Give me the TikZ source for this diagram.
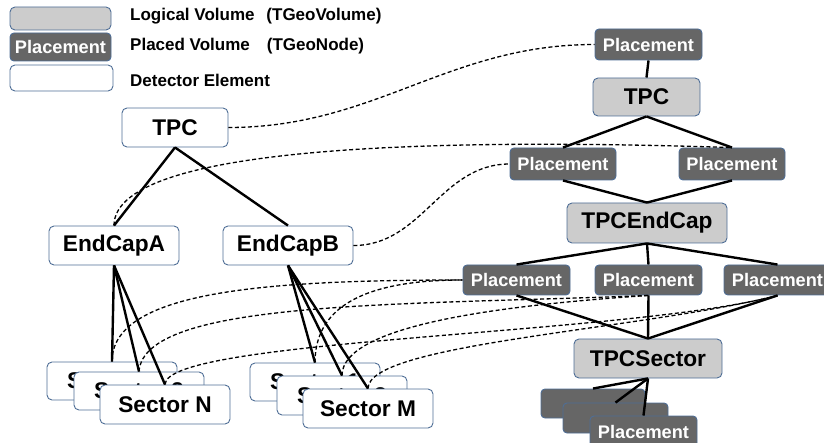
\documentclass[tikz,border=0pt]{standalone}
\usepackage{fontspec}
\setmainfont{Liberation Sans}
\definecolor{boxedge}{HTML}{4F6E96}
\definecolor{volgray}{HTML}{CCCCCC}
\definecolor{placegray}{HTML}{666666}

\begin{document}
\begin{tikzpicture}[x=1pt, y=-1pt,
volnode/.style={rectangle, rounded corners=5pt, draw=boxedge, line width=0.9pt, fill=volgray, inner sep=0pt, minimum width=107pt, minimum height=38pt, font=\fontsize{22.7}{26}\selectfont\bfseries},
placenode/.style={rectangle, rounded corners=4pt, draw=boxedge, line width=0.9pt, fill=placegray, text=white, inner sep=0pt, minimum width=107pt, minimum height=32pt, font=\fontsize{18.2}{21}\selectfont\bfseries},
detnode/.style={rectangle, rounded corners=5pt, draw=boxedge, line width=0.9pt, fill=white, inner sep=0pt, minimum width=130pt, minimum height=39pt, font=\fontsize{22.7}{26}\selectfont\bfseries},
legtext/.style={anchor=west, inner sep=0pt, font=\fontsize{17}{20}\selectfont\bfseries},
treeline/.style={line width=2.4pt},
linkline/.style={dashed, dash pattern=on 4pt off 2.5pt, line width=1.3pt},
]
\useasboundingbox (0,0) rectangle (824,443);

%Legend
\node[volnode, minimum width=101pt, minimum height=23pt]   (legvol)   at (60.5,18.5) {};
\node[placenode, minimum width=101pt, minimum height=28pt] (legplace) at (60.5,47)   {Placement};
\node[detnode, minimum width=103pt, minimum height=26pt]   (legdet)   at (61.5,78)   {};
\node[legtext] (legvoltext)   at (130,16) {Logical Volume\hspace{0.7em}(TGeoVolume)};
\node[legtext] (legplacetext) at (130,46) {Placed Volume\hspace{1em}(TGeoNode)};
\node[legtext] (legdettext)   at (130,80) {Detector Element};

%Detector elements
\node[detnode, minimum width=106pt] (tpcdet)  at (175,127.5) {TPC};
\node[detnode]                      (endcapA) at (114,245.5) {EndCapA};
\node[detnode]                      (endcapB) at (288,245.5) {EndCapB};
\node[detnode, minimum height=38pt] (sectorA1) at (112,381)   {Sector 1};
\node[detnode, minimum height=38pt] (sectorA2) at (139,391)   {Sector 2};
\node[detnode]                      (sectorAN) at (165,404.5) {Sector N};
\node[detnode, minimum height=38pt] (sectorB1) at (315,382)   {Sector 1};
\node[detnode]                      (sectorB2) at (342,395.5) {Sector 2};
\node[detnode]                      (sectorBM) at (368,408.5) {Sector M};

%Volumes and placements
\node[placenode, minimum height=31pt] (topplace)  at (648.5,44.5) {Placement};
\node[volnode]                        (tpcvol)    at (646.5,97)   {TPC};
\node[placenode, minimum width=106pt] (placeA)    at (563,164)    {Placement};
\node[placenode, minimum width=106pt] (placeB)    at (732,164)    {Placement};
\node[volnode, minimum width=160pt, minimum height=40pt] (endcapvol) at (647,223) {TPCEndCap};
\node[placenode, minimum height=30pt] (placeC)    at (516.5,280)  {Placement};
\node[placenode, minimum height=30pt] (placeD)    at (648.5,280)  {Placement};
\node[placenode, minimum height=30pt] (placeE)    at (777.5,280)  {Placement};
\node[volnode, minimum width=148pt, minimum height=39pt] (sectorvol) at (648,358.5) {TPCSector};
\node[placenode, minimum width=104pt, minimum height=29pt] (placeS1) at (593,403.5) {};
\node[placenode, minimum width=105pt, minimum height=30pt] (placeS2) at (615.5,418) {};
\node[placenode]                      (placeSN)   at (643.5,432)  {Placement};

%Lines
\draw[treeline] (tpcdet.south) -- (endcapA.north);
\draw[treeline] (tpcdet.south) -- (endcapB.north);
\foreach \s in {sectorA1,sectorA2,sectorAN}
  \draw[treeline] (endcapA.south) -- (\s.north);
\foreach \s in {sectorB1,sectorB2,sectorBM}
  \draw[treeline] (endcapB.south) -- (\s.north);
\draw[treeline] (topplace.south) -- (tpcvol.north);
\foreach \p in {placeA,placeB}
  \draw[treeline] (tpcvol.south) -- (\p.north) (\p.south) -- (endcapvol.north);
\foreach \p in {placeC,placeD,placeE}
  \draw[treeline] (endcapvol.south) -- (\p.north) (\p.south) -- (sectorvol.north);
\foreach \p in {placeS1,placeS2,placeSN}
  \draw[treeline] (sectorvol.south) -- (\p.north);

%Links
\draw[linkline] (tpcdet.east) .. controls +(147,0) and +(-147,0) .. (topplace.west);
\draw[linkline] (endcapA.north) .. controls +(0,-86) and +(-250,-8) .. (placeB.north);
\draw[linkline] (endcapB.east) .. controls +(69,0) and +(-69,0) .. (placeA.west);
\draw[linkline] (sectorA1.north) .. controls +(0,-70) and +(-200,0) .. (placeC.west);
\draw[linkline] (sectorB1.north) .. controls +(0,-60) and +(-90,0) .. (placeC.west);
\draw[linkline] (sectorA2.north) .. controls +(5,-72) and +(-248,10) .. (placeD.south);
\draw[linkline] (sectorB2.north) .. controls +(0,-50) and +(-150,10) .. (placeD.south);
\draw[linkline] (sectorAN.north) .. controls +(0,-46) and +(-150,40) .. (placeE.south);
\draw[linkline] (sectorBM.north) .. controls +(0,-45) and +(-140,35) .. (placeE.south);
\end{tikzpicture}
\end{document}
